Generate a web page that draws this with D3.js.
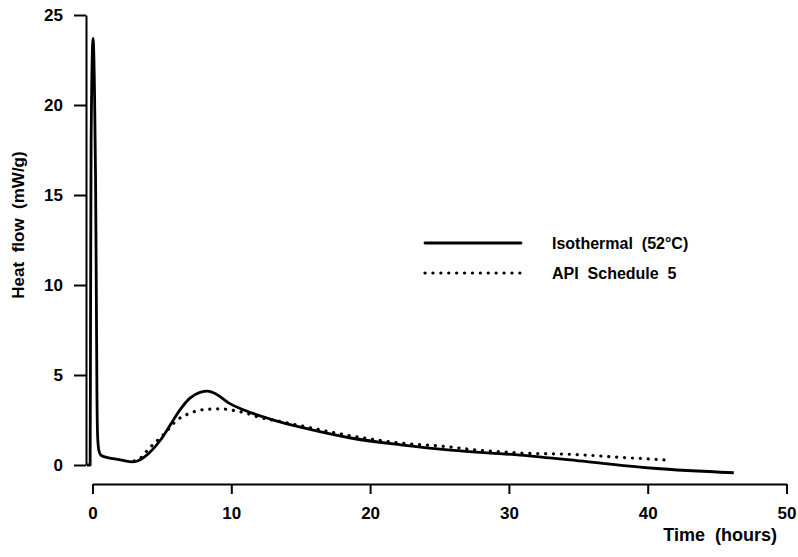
<!DOCTYPE html>
<html>
<head>
<meta charset="utf-8">
<script src="https://cdn.jsdelivr.net/npm/d3@7"></script>
<style>
    body { margin: 0; background: white; }
    text { font-family: Arial, "Liberation Sans", sans-serif; font-weight: bold; fill: black; }
</style>
</head>
<body>
<div id="graph"></div>
<script>
// Isothermal (52°C): time (h), heat flow (mW/g)
var isoTemps = [-0.4, -0.17, -0.14, -0.1, 0.04, 0.15, 0.22, 0.28, 0.32, 0.37, 0.45, 0.6, 0.9, 1.5, 2.0, 2.9, 3.4, 4.1, 4.9, 5.6, 6.3, 7.0, 7.75, 8.3, 8.95, 9.8, 10.6, 11.5, 13.3, 15, 18.6, 22.2, 25.8, 30.8, 35.6, 40.4, 46.2];
var isoFlux  = [0, 0, 8, 18, 23.7, 20.5, 16, 9, 4, 1.6, 0.85, 0.55, 0.45, 0.35, 0.28, 0.17, 0.28, 0.68, 1.39, 2.22, 3.06, 3.7, 4.04, 4.1, 3.92, 3.45, 3.15, 2.88, 2.44, 2.1, 1.5, 1.12, 0.83, 0.55, 0.19, -0.18, -0.43];

// API Schedule 5
var apiTemps = [3.0, 3.4, 4.1, 5.1, 6.1, 7.0, 8.25, 9.2, 10.0, 10.9, 12, 13.3, 15, 18.6, 22.2, 25.8, 27.2, 30.8, 34.6, 38, 41.3];
var apiFlux  = [0.22, 0.35, 0.94, 1.67, 2.5, 2.87, 3.1, 3.12, 3.05, 2.92, 2.65, 2.45, 2.18, 1.62, 1.22, 1.0, 0.87, 0.67, 0.59, 0.43, 0.28];

var yTicks = [0, 5, 10, 15, 20, 25];
var xTicks = [0, 10, 20, 30, 40, 50];
var legende = ["Isothermal  (52°C)", "API  Schedule  5"];

function toPoints(t, v) {
    return t.map(function (d, i) { return {t: d, v: v[i]}; });
}

function dessin() {
    var margin = {top: 15, right: 11.5, bottom: 92, left: 92.5},
        width = 798 - margin.left - margin.right,
        height = 557 - margin.top - margin.bottom,

        svg = d3.select("#graph")
            .append("svg")
                .attr("width", 798)
                .attr("height", 557)
            .append("g")
                .attr("transform", "translate(" + margin.left + "," + margin.top + ")"),

        x = d3.scaleLinear()
            .domain([0, 50])
            .range([0, width]),

        y = d3.scaleLinear()
            .domain([0, 25])
            .range([height, 0]),

        line = d3.line()
            .x(function (d) { return x(d.t); })
            .y(function (d) { return y(d.v); })
            .curve(d3.curveMonotoneX);

    var ay = svg.append("g")
        .attr("transform", "translate(-6.5,0)")
        .call(d3.axisLeft(y).tickValues(yTicks).tickSize(12).tickSizeOuter(0).tickPadding(11));

    var ax = svg.append("g")
        .attr("transform", "translate(0," + (height + 19) + ")")
        .call(d3.axisBottom(x).tickValues(xTicks).tickSize(10).tickSizeOuter(0).tickPadding(13));

    [ay, ax].forEach(function (a) {
        a.selectAll("path, line").attr("stroke", "black").attr("stroke-width", 2);
        a.selectAll("text").style("font-size", "17px").attr("fill", "black");
    });

    svg.append("text")
        .attr("transform", "translate(" + (-margin.left + 24) + "," + (height / 2 - 15) + ") rotate(-90)")
        .style("text-anchor", "middle")
        .style("font-size", "17px")
        .style("white-space", "pre")
        .text("Heat  flow  (mW/g)");

    svg.append("text")
        .attr("x", 777 - margin.left)
        .attr("y", 541 - margin.top)
        .style("text-anchor", "end")
        .style("font-size", "18px")
        .style("white-space", "pre")
        .text("Time  (hours)");

    svg.append("path")
        .datum(toPoints(apiTemps, apiFlux))
        .attr("fill", "none")
        .attr("stroke", "black")
        .attr("stroke-width", 3.2)
        .attr("stroke-linecap", "round")
        .attr("stroke-dasharray", "0.1 7.8")
        .attr("d", line);

    svg.append("path")
        .datum(toPoints(isoTemps, isoFlux))
        .attr("fill", "none")
        .attr("stroke", "black")
        .attr("stroke-width", 2.8)
        .attr("stroke-linejoin", "round")
        .attr("d", line);

    var leg = svg.selectAll(".leg")
        .data(legende)
        .enter()
        .append("g")
        .attr("transform", function (d, i) { return "translate(" + (425 - margin.left) + "," + (243 + i * 30 - margin.top) + ")"; });
    leg.append("line")
        .attr("x1", 0)
        .attr("x2", 96)
        .attr("stroke", "black")
        .attr("stroke-width", function (d, i) { return i == 0 ? 2.8 : 3.2; })
        .attr("stroke-linecap", "round")
        .attr("stroke-dasharray", function (d, i) { return i == 0 ? null : "0.1 7.8"; });
    leg.append("text")
        .attr("x", 127)
        .attr("y", 6)
        .style("font-size", "16px")
        .style("white-space", "pre")
        .text(function (d) { return d; });
}

dessin();
</script>
</body>
</html>
